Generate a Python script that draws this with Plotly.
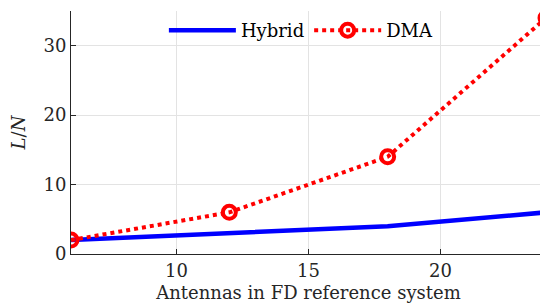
import plotly.graph_objects as go

antennas = [6, 12, 18, 24]
hybrid = [2, 3, 4, 6]
dma = [2, 6, 14, 34]

x_ticks = [10, 15, 20]
y_ticks = [0, 10, 20, 30]

FONT = "DejaVu Serif"
TXT = "#262626"
FS = 18

fig = go.Figure()
fig.add_trace(go.Scatter(
    x=antennas, y=hybrid, name="Hybrid", mode="lines",
    line=dict(color="#0000ff", width=4.5),
))
fig.add_trace(go.Scatter(
    x=antennas, y=dma, name="DMA", mode="lines+markers",
    line=dict(color="#ff0000", width=4, dash="dot"),
    marker=dict(symbol="circle-open", size=13, color="#ff0000",
                line=dict(width=4, color="#ff0000")),
))

fig.update_layout(
    width=548, height=308,
    margin=dict(l=63, r=10, t=3, b=62),
    paper_bgcolor="white", plot_bgcolor="white",
    font=dict(family=FONT, size=FS, color=TXT),
    showlegend=True,
    legend=dict(
        orientation="h", x=0.485, xanchor="center", y=0.92, yanchor="middle",
        bgcolor="rgba(0,0,0,0)", font=dict(family=FONT, size=FS, color="#000000"),
        itemwidth=67, tracegroupgap=0,
    ),
    xaxis=dict(
        range=[6, 24], tickvals=x_ticks, showgrid=True, gridcolor="#e3e3e3",
        gridwidth=1, zeroline=False, showline=True, linecolor="#262626",
        linewidth=1, ticks="inside", ticklen=5, tickcolor="#262626",
        automargin=False,
        tickfont=dict(family=FONT, size=FS, color=TXT),
        title=dict(text="Antennas in FD reference system",
                   font=dict(family=FONT, size=FS, color=TXT), standoff=6),
    ),
    yaxis=dict(
        range=[0, 35], tickvals=y_ticks, showgrid=True, gridcolor="#e3e3e3",
        gridwidth=1, zeroline=False, showline=True, linecolor="#262626",
        linewidth=1, ticks="inside", ticklen=5, tickcolor="#262626",
        automargin=False,
        tickfont=dict(family=FONT, size=FS, color=TXT),
        title=dict(text="<i>L</i>/<i>N</i>",
                   font=dict(family=FONT, size=FS, color=TXT), standoff=16),
    ),
)

fig.write_html("out.html")
